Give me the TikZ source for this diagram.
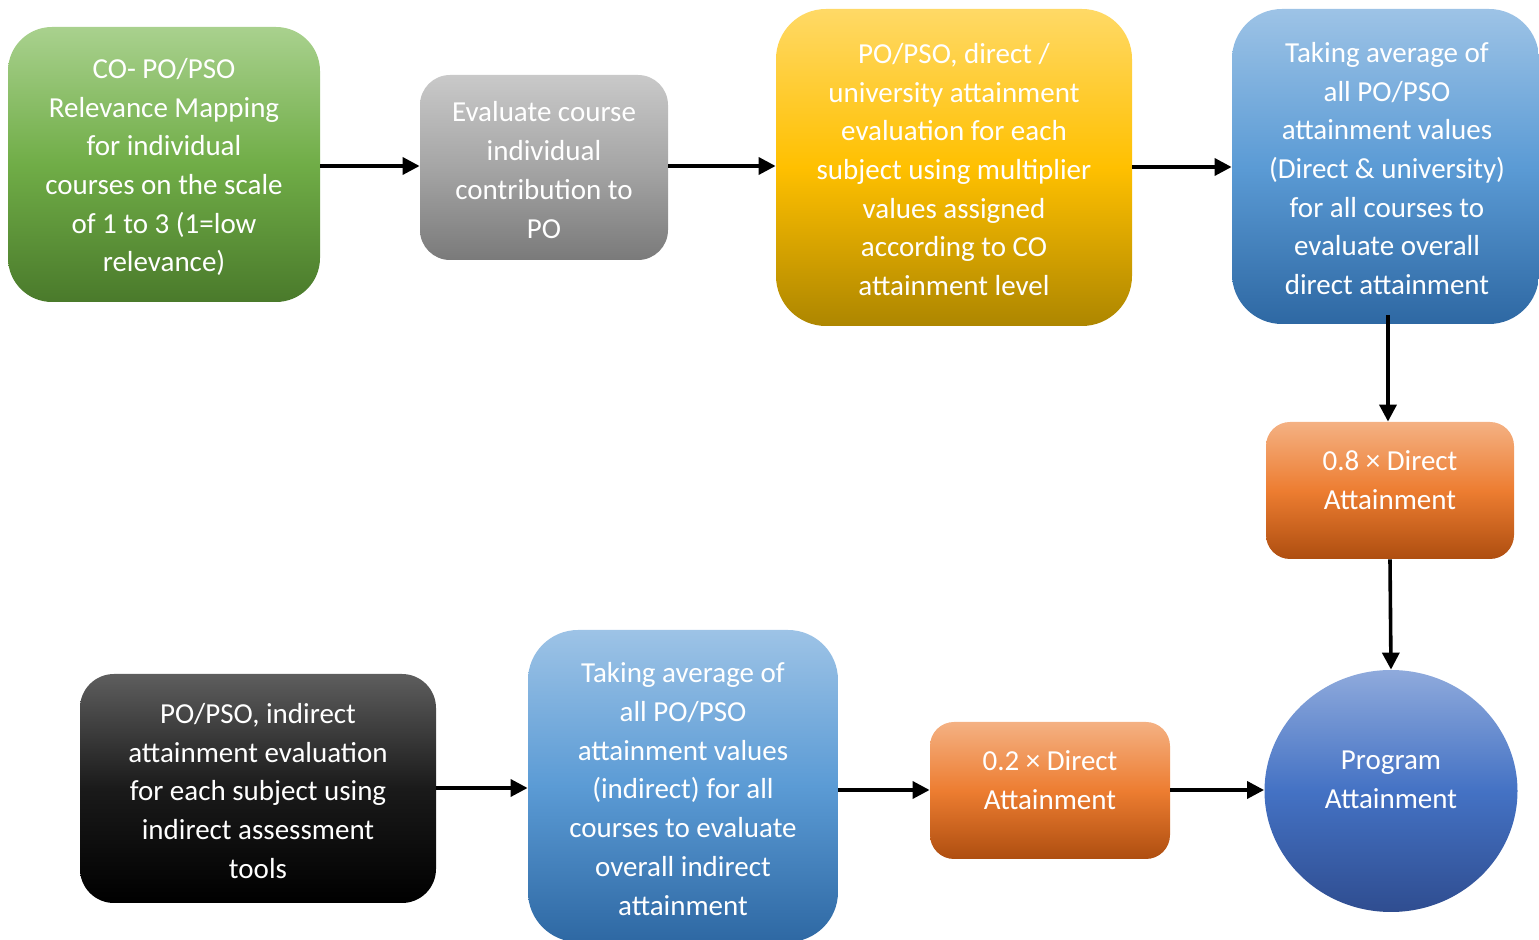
\documentclass[tikz,border=0pt]{standalone}
\usepackage{fontspec}
\setmainfont{Carlito}
\usetikzlibrary{arrows.meta,shapes.geometric}
\newcommand\boxfont{\fontsize{14.5}{19.35}\selectfont}
\definecolor{gT}{HTML}{A9D18E}\definecolor{gM}{HTML}{70AD47}\definecolor{gB}{HTML}{4A7A2B}
\definecolor{aT}{HTML}{C9C9C9}\definecolor{aM}{HTML}{A5A5A5}\definecolor{aB}{HTML}{7A7A7A}
\definecolor{yT}{HTML}{FFD966}\definecolor{yM}{HTML}{FFC000}\definecolor{yB}{HTML}{AD8600}
\definecolor{bT}{HTML}{9DC3E6}\definecolor{bM}{HTML}{5B9BD5}\definecolor{bB}{HTML}{2E68A3}
\definecolor{oT}{HTML}{F4B183}\definecolor{oM}{HTML}{ED7D31}\definecolor{oB}{HTML}{AE4E10}
\definecolor{cT}{HTML}{8FAADC}\definecolor{cM}{HTML}{4472C4}\definecolor{cB}{HTML}{2F4D90}
\definecolor{kT}{HTML}{5E5E5E}\definecolor{kM}{HTML}{1A1A1A}\definecolor{kB}{HTML}{000000}
\tikzset{
  box/.style={inner sep=0pt, align=center, text=white, font=\boxfont},
  txt/.style={inner sep=0pt, align=center, text=white, font=\boxfont},
  flow/.style={line width=1.8pt, -{Triangle[length=8.5pt,width=8.5pt]}},
  greenfill/.style={top color=gT, bottom color=gB, middle color=gM},
  grayfill/.style={top color=aT, bottom color=aB, middle color=aM},
  yellowfill/.style={top color=yT, bottom color=yB, middle color=yM},
  bluefill/.style={top color=bT, bottom color=bB, middle color=bM},
  orangefill/.style={top color=oT, bottom color=oB, middle color=oM},
  circlefill/.style={top color=cT, bottom color=cB, middle color=cM},
  blackfill/.style={top color=kT, bottom color=kB, middle color=kM},
}
\begin{document}
\begin{tikzpicture}[x=0.5pt,y=-0.5pt]
\useasboundingbox (0,0) rectangle (1539,940);
% top row
\node[box, greenfill, rounded corners=22pt, minimum width=156pt, minimum height=137.5pt] (co) at (164,164.5) {};
\node[txt] (cot) at (164,167) {CO- PO/PSO\\Relevance Mapping\\for individual\\courses on the scale\\of 1 to 3 (1=low\\relevance)};
\node[box, grayfill, rounded corners=15pt, minimum width=124pt, minimum height=92.5pt] (ev) at (544,167.5) {};
\node[txt] (evt) at (544,170) {Evaluate course\\individual\\contribution to\\PO};
\node[box, yellowfill, rounded corners=25pt, minimum width=178pt, minimum height=158.5pt] (dir) at (954,167.5) {};
\node[txt] (dirt) at (954,169.5) {PO/PSO, direct /\\university attainment\\evaluation for each\\subject using multiplier\\values assigned\\according to CO\\attainment level};
\node[box, bluefill, rounded corners=25pt, minimum width=153.5pt, minimum height=157.5pt] (avd) at (1385.5,166.5) {};
\node[txt] (avdt) at (1387,168.5) {Taking average of\\all PO/PSO\\attainment values\\(Direct \& university)\\for all courses to\\evaluate overall\\direct attainment};
% right column
\node[box, orangefill, rounded corners=12pt, minimum width=124pt, minimum height=68.5pt] (o8) at (1390,490.5) {};
\node[txt] (o8t) at (1390,480) {0.8 × Direct\\Attainment};
\node[box, circlefill, ellipse, minimum width=126.5pt, minimum height=121pt] (pa) at (1391,791) {};
\node[txt] (pat) at (1391,780) {Program\\Attainment};
% bottom row
\node[box, blackfill, rounded corners=17pt, minimum width=178pt, minimum height=114.5pt] (ind) at (258,788.5) {};
\node[txt] (indt) at (258,791) {PO/PSO, indirect\\attainment evaluation\\for each subject using\\indirect assessment\\tools};
\node[box, bluefill, rounded corners=25pt, minimum width=155pt, minimum height=156pt] (avi) at (683,786) {};
\node[txt] (avit) at (683,789) {Taking average of\\all PO/PSO\\attainment values\\(indirect) for all\\courses to evaluate\\overall indirect\\attainment};
\node[box, orangefill, rounded corners=12pt, minimum width=120pt, minimum height=68.5pt] (o2) at (1050,790.5) {};
\node[txt] (o2t) at (1050,780) {0.2 × Direct\\Attainment};
% connectors
\draw[flow] (co.east |- 0,166) -- (ev.west |- 0,166);
\draw[flow] (ev.east |- 0,166) -- (dir.west |- 0,166);
\draw[flow] (dir.east |- 0,167) -- (avd.west |- 0,167);
\draw[flow] (1388,315) -- (o8.north -| 1388,0);
\draw[flow] (o8.south) -- (pa.north);
\draw[flow] (ind.east |- 0,788) -- (avi.west |- 0,788);
\draw[flow] (avi.east |- 0,790) -- (o2.west |- 0,790);
\draw[flow] (o2.east |- 0,790) -- (pa.west |- 0,790);
\end{tikzpicture}
\end{document}
